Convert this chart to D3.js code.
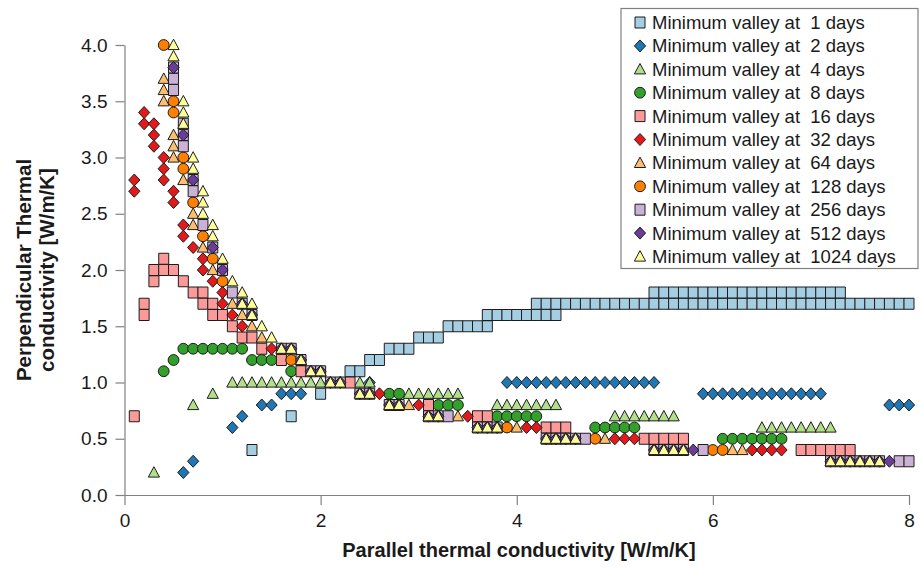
<!DOCTYPE html>
<html>
<head>
<meta charset="utf-8">
<script src="https://cdn.jsdelivr.net/npm/d3@7"></script>
<style>
  body { margin: 0; background: #fff; }
  svg { display: block; font-family: "Liberation Sans", Arial, sans-serif; }
  .legend-label { white-space: pre; }
</style>
</head>
<body>
<svg id="chart" width="923" height="576"></svg>
<script>
// ---- Data -------------------------------------------------------------
const xTicks = [0, 2, 4, 6, 8];
const yTicks = [0, 0.5, 1, 1.5, 2, 2.5, 3, 3.5, 4];

const seriesNames = [
  "Minimum valley at  1 days", "Minimum valley at  2 days", "Minimum valley at  4 days",
  "Minimum valley at  8 days", "Minimum valley at  16 days", "Minimum valley at  32 days",
  "Minimum valley at  64 days", "Minimum valley at  128 days", "Minimum valley at  256 days",
  "Minimum valley at  512 days", "Minimum valley at  1024 days"
];
const seriesColors = ["#a6cee3", "#1f78b4", "#b2df8a", "#33a02c", "#fb9a99", "#e31a1c",
                      "#fdbf6f", "#ff7f00", "#cab2d6", "#6a3d9a", "#ffff99"];
const seriesShapes = ["square", "diamond", "triangle", "circle", "square", "diamond",
                      "triangle", "circle", "square", "diamond", "triangle"];

// [parallel, perpendicular] conductivity pairs, W/m/K
const days1 = [
  [1.3,0.4],[1.7,0.7],[2.0,0.9],[2.3,1.1],[2.4,1.1],[2.5,1.2],[2.6,1.2],
  [2.7,1.3],[2.8,1.3],[2.9,1.3],[3.0,1.4],[3.1,1.4],[3.2,1.4],
  [3.3,1.5],[3.4,1.5],[3.5,1.5],[3.6,1.5],[3.7,1.5],
  [3.7,1.6],[3.8,1.6],[3.9,1.6],[4.0,1.6],[4.1,1.6],[4.2,1.6],[4.3,1.6],[4.4,1.6],
  [4.2,1.7],[4.3,1.7],[4.4,1.7],[4.5,1.7],[4.6,1.7],[4.7,1.7],[4.8,1.7],[4.9,1.7],
  [5.0,1.7],[5.1,1.7],[5.2,1.7],[5.3,1.7],[5.4,1.7],[5.5,1.7],[5.6,1.7],[5.7,1.7],
  [5.8,1.7],[5.9,1.7],[6.0,1.7],[6.1,1.7],[6.2,1.7],[6.3,1.7],[6.4,1.7],[6.5,1.7],
  [6.6,1.7],[6.7,1.7],[6.8,1.7],[6.9,1.7],[7.0,1.7],[7.1,1.7],[7.2,1.7],[7.3,1.7],
  [7.4,1.7],[7.5,1.7],[7.6,1.7],[7.7,1.7],[7.8,1.7],[7.9,1.7],[8.0,1.7],
  [5.4,1.8],[5.5,1.8],[5.6,1.8],[5.7,1.8],[5.8,1.8],[5.9,1.8],[6.0,1.8],[6.1,1.8],
  [6.2,1.8],[6.3,1.8],[6.4,1.8],[6.5,1.8],[6.6,1.8],[6.7,1.8],[6.8,1.8],[6.9,1.8],
  [7.0,1.8],[7.1,1.8],[7.2,1.8],[7.3,1.8]
];
const days2 = [
  [0.6,0.2],[0.7,0.3],[1.1,0.6],[1.2,0.7],[1.4,0.8],[1.5,0.8],[1.6,0.9],[1.7,0.9],
  [1.8,0.9],[2.5,1.0],
  [3.9,1.0],[4.0,1.0],[4.1,1.0],[4.2,1.0],[4.3,1.0],[4.4,1.0],[4.5,1.0],[4.6,1.0],
  [4.7,1.0],[4.8,1.0],[4.9,1.0],[5.0,1.0],[5.1,1.0],[5.2,1.0],[5.3,1.0],[5.4,1.0],
  [5.9,0.9],[6.0,0.9],[6.1,0.9],[6.2,0.9],[6.3,0.9],[6.4,0.9],[6.5,0.9],[6.6,0.9],
  [6.7,0.9],[6.8,0.9],[6.9,0.9],[7.0,0.9],[7.1,0.9],
  [7.8,0.8],[7.9,0.8],[8.0,0.8]
];
const days4 = [
  [0.3,0.2],[0.7,0.8],[0.9,0.9],
  [1.1,1.0],[1.2,1.0],[1.3,1.0],[1.4,1.0],[1.5,1.0],[1.6,1.0],[1.7,1.0],[1.8,1.0],
  [1.9,1.0],[2.0,1.0],[2.1,1.0],[2.2,1.0],[2.3,1.0],[2.4,1.0],[2.5,1.0],
  [2.9,0.9],[3.0,0.9],[3.1,0.9],[3.2,0.9],[3.3,0.9],[3.4,0.9],
  [3.8,0.8],[3.9,0.8],[4.0,0.8],[4.1,0.8],[4.2,0.8],[4.3,0.8],[4.4,0.8],
  [5.0,0.7],[5.1,0.7],[5.2,0.7],[5.3,0.7],[5.4,0.7],[5.5,0.7],[5.6,0.7],
  [6.5,0.6],[6.6,0.6],[6.7,0.6],[6.8,0.6],[6.9,0.6],[7.0,0.6],[7.1,0.6],[7.2,0.6]
];
const days8 = [
  [0.4,1.1],[0.5,1.2],
  [0.6,1.3],[0.7,1.3],[0.8,1.3],[0.9,1.3],[1.0,1.3],[1.1,1.3],[1.2,1.3],
  [1.3,1.2],[1.4,1.2],[1.5,1.2],[1.7,1.1],
  [2.7,0.9],[2.8,0.9],[3.2,0.8],[3.3,0.8],[3.4,0.8],
  [3.8,0.7],[3.9,0.7],[4.0,0.7],[4.1,0.7],[4.2,0.7],
  [4.8,0.6],[4.9,0.6],[5.0,0.6],[5.1,0.6],[5.2,0.6],
  [6.1,0.5],[6.2,0.5],[6.3,0.5],[6.4,0.5],[6.5,0.5],[6.6,0.5],[6.7,0.5]
];
const days16 = [
  [0.1,0.7],[0.2,1.6],[0.2,1.7],[0.3,1.9],[0.3,2.0],[0.4,2.0],[0.4,2.1],[0.5,2.0],
  [0.6,1.9],[0.7,1.8],[0.8,1.8],[0.8,1.7],[0.9,1.7],[0.9,1.6],[1.0,1.6],[1.1,1.5],
  [1.2,1.4],[1.3,1.4],[1.4,1.3],[1.6,1.2],[1.8,1.1],[2.3,1.0],[3.1,0.8],
  [3.6,0.7],[3.7,0.7],[4.3,0.6],[4.4,0.6],[4.5,0.6],
  [5.3,0.5],[5.4,0.5],[5.5,0.5],[5.6,0.5],[5.7,0.5],
  [6.9,0.4],[7.0,0.4],[7.1,0.4],[7.2,0.4],[7.3,0.4],[7.4,0.4]
];
const days32 = [
  [0.1,2.7],[0.1,2.8],[0.2,3.3],[0.2,3.4],[0.3,3.1],[0.3,3.2],[0.3,3.3],
  [0.4,2.8],[0.4,2.9],[0.4,3.0],[0.5,2.6],[0.5,2.7],[0.6,2.3],[0.6,2.4],
  [0.7,2.2],[0.8,2.0],[0.8,2.1],[0.9,1.9],[1.0,1.7],[1.0,1.8],[1.1,1.6],
  [1.2,1.5],[1.5,1.3],[2.6,0.9],[3.0,0.8],[3.5,0.7],[4.1,0.6],[4.2,0.6],
  [5.0,0.5],[5.1,0.5],[5.2,0.5],[6.4,0.4],[6.5,0.4],[6.6,0.4],[6.7,0.4]
];
const days64 = [
  [0.4,3.5],[0.4,3.6],[0.4,3.7],[0.5,3.0],[0.5,3.1],[0.5,3.2],[0.6,2.8],
  [0.7,2.4],[0.7,2.5],[0.8,2.2],[0.9,2.0],[1.1,1.7],[1.2,1.6],[1.3,1.5],
  [1.4,1.4],[2.9,0.8],[3.4,0.7],[4.0,0.6],[4.9,0.5],[6.2,0.4],[6.3,0.4]
];
const days128 = [
  [0.4,4.0],[0.5,3.4],[0.5,3.5],[0.6,2.9],[0.6,3.0],[0.7,2.6],[0.8,2.3],
  [0.9,2.1],[1.0,1.9],[1.7,1.2],[3.9,0.6],[4.8,0.5],[6.0,0.4],[6.1,0.4]
];
const days256 = [
  [0.5,3.6],[0.5,3.7],[0.5,3.8],[0.6,3.1],[0.6,3.2],[0.6,3.3],[0.7,2.7],[0.7,2.8],
  [0.8,2.4],[0.9,2.2],[1.0,2.0],[1.1,1.8],[1.2,1.7],[1.3,1.6],
  [1.6,1.3],[1.7,1.3],[1.8,1.2],[1.9,1.1],[2.0,1.1],[2.1,1.0],[2.2,1.0],
  [2.4,0.9],[2.5,0.9],[2.7,0.8],[2.8,0.8],[3.1,0.7],[3.2,0.7],[3.3,0.7],
  [3.6,0.6],[3.7,0.6],[3.8,0.6],[4.3,0.5],[4.4,0.5],[4.5,0.5],[4.6,0.5],[4.7,0.5],
  [5.4,0.4],[5.5,0.4],[5.6,0.4],[5.7,0.4],[5.9,0.4],
  [7.2,0.3],[7.3,0.3],[7.4,0.3],[7.5,0.3],[7.6,0.3],[7.7,0.3],[7.9,0.3],[8.0,0.3]
];
const days512 = [
  [0.5,3.8],[0.6,3.2],[0.7,2.8],[0.9,2.2],[1.0,2.0],[1.2,1.7],[1.3,1.6],
  [1.6,1.3],[1.7,1.3],[1.8,1.2],[1.9,1.1],[2.0,1.1],[2.1,1.0],[2.2,1.0],
  [2.4,0.9],[2.5,0.9],[2.7,0.8],[2.8,0.8],[3.1,0.7],[3.2,0.7],
  [3.6,0.6],[3.7,0.6],[3.8,0.6],[4.3,0.5],[4.4,0.5],[4.5,0.5],[4.6,0.5],
  [5.4,0.4],[5.5,0.4],[5.6,0.4],[5.7,0.4],[5.8,0.4],
  [7.2,0.3],[7.3,0.3],[7.4,0.3],[7.5,0.3],[7.6,0.3],[7.7,0.3],[7.8,0.3]
];
const days1024 = [
  [0.5,3.9],[0.5,4.0],[0.6,3.3],[0.6,3.4],[0.6,3.5],[0.7,2.9],[0.7,3.0],
  [0.8,2.5],[0.8,2.6],[0.8,2.7],[0.9,2.3],[0.9,2.4],[1.0,2.1],[1.1,1.9],
  [1.2,1.7],[1.2,1.8],[1.3,1.6],[1.3,1.7],[1.4,1.5],[1.5,1.4],
  [1.6,1.3],[1.7,1.3],[1.8,1.2],[1.9,1.1],[2.0,1.1],[2.1,1.0],[2.2,1.0],
  [2.4,0.9],[2.5,0.9],[2.7,0.8],[2.8,0.8],[3.1,0.7],[3.2,0.7],
  [3.6,0.6],[3.7,0.6],[3.8,0.6],[4.3,0.5],[4.4,0.5],[4.5,0.5],[4.6,0.5],
  [5.4,0.4],[5.5,0.4],[5.6,0.4],[5.7,0.4],
  [7.2,0.3],[7.3,0.3],[7.4,0.3],[7.5,0.3],[7.6,0.3],[7.7,0.3]
];

const seriesData = [days1, days2, days4, days8, days16, days32,
                    days64, days128, days256, days512, days1024];

// ---- Layout -----------------------------------------------------------
const svg = d3.select("#chart");
const plot = { left: 124.5, right: 909, top: 45, bottom: 495 };

const x = d3.scaleLinear().domain([0, 8]).range([plot.left, plot.right]);
const y = d3.scaleLinear().domain([0, 4]).range([plot.bottom, plot.top]);

const axisColor = "#808080";
const textColor = "#1a1a1a";

// Marker outlines, centred on the data point
const shapePath = {
  square:   "M-5,-5.5H5V5.5H-5Z",
  diamond:  "M0,-6L5.6,0L0,6L-5.6,0Z",
  triangle: "M0,-5.8L5.6,4.6L-5.6,4.6Z"
};

function drawMarker(sel, shape, color) {
  if (shape === "circle") {
    sel.append("circle").attr("r", 5.4);
  } else {
    sel.append("path").attr("d", shapePath[shape]);
  }
  sel.select(":last-child")
    .attr("fill", color)
    .attr("stroke", "#1c1c1c")
    .attr("stroke-width", 1);
}

// ---- Axes -------------------------------------------------------------
const yAxis = d3.axisLeft(y)
  .tickValues(yTicks)
  .tickFormat(d3.format(".1f"))
  .tickSize(9)
  .tickSizeOuter(0)
  .tickPadding(8);

const xAxis = d3.axisBottom(x)
  .tickValues(xTicks)
  .tickFormat(d3.format("d"))
  .tickSize(10)
  .tickSizeOuter(0)
  .tickPadding(9);

const gy = svg.append("g").attr("transform", `translate(${plot.left},0)`).call(yAxis);
const gx = svg.append("g").attr("transform", `translate(0,${plot.bottom})`).call(xAxis);

[gx, gy].forEach(g => {
  g.select(".domain").attr("stroke", axisColor).attr("stroke-width", 1.2);
  g.selectAll(".tick line").attr("stroke", axisColor).attr("stroke-width", 1.2);
  g.selectAll(".tick text")
    .attr("fill", textColor)
    .style("font-family", '"Liberation Sans", Arial, sans-serif')
    .style("font-size", "19px");
});

// Axis titles
svg.append("text")
  .attr("x", 519).attr("y", 557)
  .attr("text-anchor", "middle")
  .attr("fill", textColor)
  .style("font-size", "20px").style("font-weight", "bold")
  .text("Parallel thermal conductivity [W/m/K]");

const yTitle = svg.append("g").attr("transform", "translate(0,270) rotate(-90)");
yTitle.append("text")
  .attr("x", 0).attr("y", 31)
  .attr("text-anchor", "middle").attr("fill", textColor)
  .style("font-size", "20.5px").style("font-weight", "bold")
  .text("Perpendicular Thermal");
yTitle.append("text")
  .attr("x", 0).attr("y", 54)
  .attr("text-anchor", "middle").attr("fill", textColor)
  .style("font-size", "20.5px").style("font-weight", "bold")
  .text("conductivity [W/m/K]");

// ---- Points -----------------------------------------------------------
const pointLayer = svg.append("g");
seriesData.forEach((pts, i) => {
  const g = pointLayer.append("g").attr("class", "series-" + i);
  g.selectAll("g.pt")
    .data(pts)
    .join("g")
    .attr("class", "pt")
    .attr("transform", d => `translate(${x(d[0])},${y(d[1])})`)
    .each(function () { drawMarker(d3.select(this), seriesShapes[i], seriesColors[i]); });
});

// ---- Legend -----------------------------------------------------------
const legend = svg.append("g");
legend.append("rect")
  .attr("x", 621).attr("y", 8.5)
  .attr("width", 297).attr("height", 260)
  .attr("fill", "#fff")
  .attr("stroke", "#808080").attr("stroke-width", 1.2);

const rowStep = 23.4;
seriesNames.forEach((name, i) => {
  const cy = 22.5 + i * rowStep;
  const item = legend.append("g").attr("transform", `translate(640,${cy})`);
  drawMarker(item, seriesShapes[i], seriesColors[i]);
  legend.append("text")
    .attr("class", "legend-label")
    .attr("x", 652).attr("y", cy)
    .attr("dy", "0.35em")
    .attr("fill", textColor)
    .style("font-size", "18.5px")
    .text(name);
});
</script>
</body>
</html>
